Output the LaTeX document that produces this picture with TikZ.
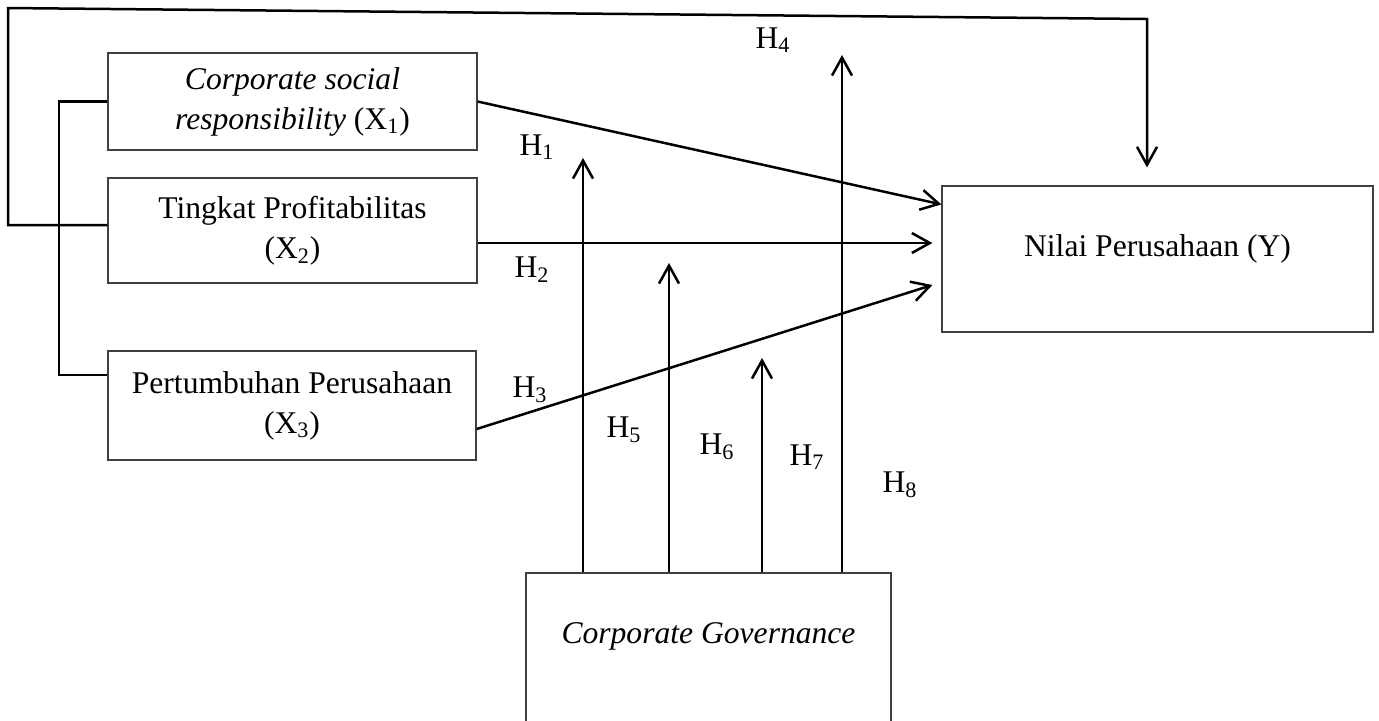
\documentclass[tikz,border=0pt]{standalone}
\usepackage{fontspec}
\setmainfont{Liberation Serif}
\usetikzlibrary{arrows.meta,calc}

\begin{document}
\begin{tikzpicture}[x=0.5pt,y=-0.5pt,
    font=\fontsize{15.8}{20}\selectfont,
    kotak/.style={draw=black!75,line width=0.6pt,inner sep=0pt},
    panah/.style={-{Straight Barb[length=9pt,width=10pt]},line width=1.25pt},
    garis/.style={line width=1.1pt}]
    \useasboundingbox (0,0) rectangle (1379,720);
    \node[kotak,align=center,minimum width=184.5pt,minimum height=48.5pt] (x1) at (292.5,101.5) {\textit{Corporate social}\\\textit{responsibility} (X\textsubscript{1})};
    \node[kotak,align=center,minimum width=184.5pt,minimum height=52.5pt] (x2) at (292.5,230.5) {Tingkat Profitabilitas\\(X\textsubscript{2})};
    \node[kotak,align=center,minimum width=184pt,minimum height=54.5pt] (x3) at (292,405.5) {Pertumbuhan Perusahaan\\(X\textsubscript{3})};
    \node[kotak,minimum width=215.5pt,text height=35pt,text depth=38pt,anchor=base] (y) at (1157.5,256) {Nilai Perusahaan (Y)};
    \node[kotak,minimum width=182.5pt,text height=35pt,text depth=46pt,anchor=base] (cg) at (708.5,643) {\textit{Corporate Governance}};
    \draw[garis] (x1.west) -| (59,375) -- ($(x3.west)+(0,-30.5)$);
    \draw[panah] ($(x2.west)+(0,-5.5)$) -- (8,225) -- (8,8) -- (1147,19) -- ($(y.north)+(-10.5,-18)$);
    \draw[panah] (x1.east) -- ($(y.north west)+(0,19)$);
    \draw[panah] ($(x2.east)+(0,12.5)$) -- ($(y.west)+(-9,-16)$);
    \draw[panah] ($(x3.east)+(0,23.5)$) -- ($(y.west)+(-9,26)$);
    \coordinate (t1) at (583,158);
    \coordinate (t2) at (669,263);
    \coordinate (t3) at (762,358);
    \coordinate (t4) at (842,55);
    \foreach \t in {t1,t2,t3,t4}
        \draw[panah] (cg.north -| \t) -- (\t);
    \node (h1) at (537,147) {H\textsubscript{1}};
    \node (h2) at (532,270) {H\textsubscript{2}};
    \node (h3) at (530,390) {H\textsubscript{3}};
    \node (h4) at (773,40) {H\textsubscript{4}};
    \node (h5) at (624,430) {H\textsubscript{5}};
    \node (h6) at (717,447) {H\textsubscript{6}};
    \node (h7) at (807,457) {H\textsubscript{7}};
    \node (h8) at (900,485) {H\textsubscript{8}};
\end{tikzpicture}
\end{document}
